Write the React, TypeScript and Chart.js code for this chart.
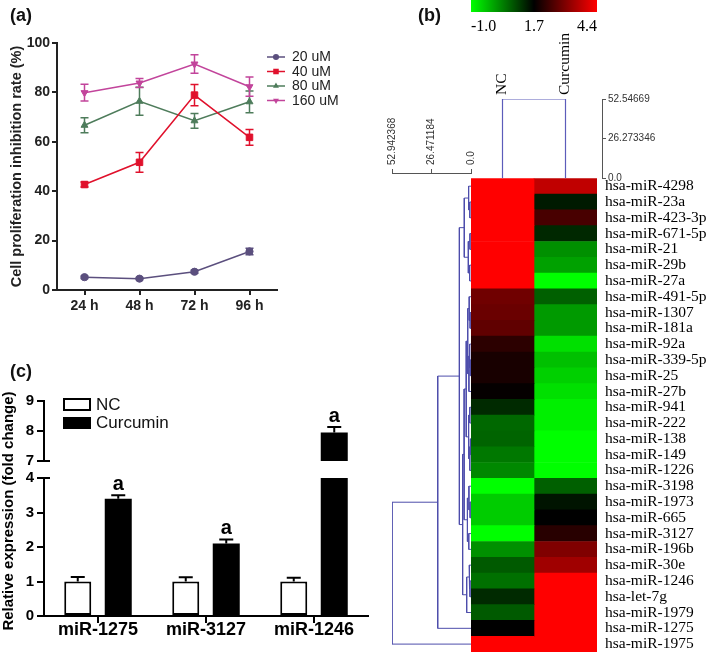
import React, { useEffect, useRef } from 'react';
import { Chart, registerables } from 'chart.js';

Chart.register(...registerables);

const W = 709;
const H = 652;
const SANS = 'Liberation Sans';
const SERIF = 'Liberation Serif';

// ---------------- (a) cell proliferation inhibition ----------------
const timeLabels = ['24 h', '48 h', '72 h', '96 h'];
const doseLabels = ['20 uM', '40 uM', '80 uM', '160 uM'];
const rate20 = [5.2, 4.6, 7.4, 15.6];
const rate40 = [42.7, 51.7, 78.9, 61.8];
const rate80 = [66.7, 76.4, 68.5, 76.2];
const rate160 = [79.9, 83.8, 91.5, 82.3];
const sd20 = [0.5, 0.5, 0.6, 1.3];
const sd40 = [1.0, 4.0, 4.3, 3.2];
const sd80 = [3.0, 5.7, 3.0, 4.4];
const sd160 = [3.4, 1.8, 3.7, 3.9];
const rateTicks = [0, 20, 40, 60, 80, 100];

// ---------------- (b) heatmap ----------------
const mirnaNames = [
  'hsa-miR-4298', 'hsa-miR-23a', 'hsa-miR-423-3p', 'hsa-miR-671-5p', 'hsa-miR-21',
  'hsa-miR-29b', 'hsa-miR-27a', 'hsa-miR-491-5p', 'hsa-miR-1307', 'hsa-miR-181a',
  'hsa-miR-92a', 'hsa-miR-339-5p', 'hsa-miR-25', 'hsa-miR-27b', 'hsa-miR-941',
  'hsa-miR-222', 'hsa-miR-138', 'hsa-miR-149', 'hsa-miR-1226', 'hsa-miR-3198',
  'hsa-miR-1973', 'hsa-miR-665', 'hsa-miR-3127', 'hsa-miR-196b', 'hsa-miR-30e',
  'hsa-miR-1246', 'hsa-let-7g', 'hsa-miR-1979', 'hsa-miR-1275', 'hsa-miR-1975',
];
const sampleLabels = ['NC', 'Curcumin'];
const ncLevels = [
  4.4, 4.4, 4.4, 4.4, 4.4, 4.4, 4.4, 2.89, 2.82, 2.72,
  2.17, 1.95, 1.95, 1.75, 1.25, 0.6, 0.64, 0.43, 0.26, -1.0,
  -0.46, -0.46, -1.0, 0.18, 0.75, 0.51, 1.25, 0.75, 1.7, 4.4,
];
const curLevels = [
  3.73, 1.43, 2.46, 1.28, 0.18, 0.0, -1.0, 0.68, 0.07, 0.07,
  -0.67, -0.33, -0.5, -0.67, -0.84, -0.84, -1.0, -1.0, -1.0, 0.68,
  1.49, 1.7, 2.12, 3.06, 3.39, 4.4, 4.4, 4.4, 4.4, 4.4,
];
const scaleTicks = [-1.0, 1.7, 4.4];
const scaleLabels = ['-1.0', '1.7', '4.4'];
const rowDistTicks = [0, 26.471184, 52.942368];
const rowDistLabels = ['0.0', '26.471184', '52.942368'];
const colDistTicks = [0, 26.273346, 52.54669];
const colDistLabels = ['0.0', '26.273346', '52.54669'];
type Merge = [number, number, number];
const rowMerges: Merge[] = [
  [1, 2, 0.8], [0, 30, 1.6], [3, 4, 0.7], [5, 6, 0.9], [32, 33, 1.8], [31, 34, 4.5],
  [8, 9, 0.6], [7, 36, 1.2], [11, 12, 0.5], [10, 38, 0.9], [39, 13, 1.4], [37, 40, 2.2],
  [14, 15, 0.8], [16, 17, 0.4], [43, 18, 0.8], [42, 44, 1.6], [41, 45, 3.2],
  [20, 21, 0.6], [19, 47, 1.4], [22, 23, 1.5], [48, 49, 2.4], [46, 50, 4.6],
  [25, 26, 0.7], [24, 52, 1.3], [53, 27, 2.9], [51, 54, 5.6], [35, 55, 7.8],
  [56, 28, 22.3], [57, 29, 52.942368],
];
const colMerges: Merge[] = [[0, 1, 52.54669]];

// ---------------- (c) qPCR ----------------
const qpcrLabels = ['miR-1275', 'miR-3127', 'miR-1246'];
const groupLabels = ['NC', 'Curcumin'];
const ncExpr = [1.0, 1.0, 1.0];
const ncErr = [0.13, 0.12, 0.11];
const curExpr = [3.4, 2.1, 7.95];
const curErr = [0.1, 0.12, 0.18];
const sigMarks = ['a', 'a', 'a'];
const exprTicksUpper = [7, 8, 9];
const exprTicksLower = [0, 1, 2, 3, 4];

// ---------------- helpers ----------------
const seriesA = [
  { label: doseLabels[0], values: rate20, sd: sd20, color: '#5b4f7e', marker: 'circle', rot: 0, r: 3.6 },
  { label: doseLabels[1], values: rate40, sd: sd40, color: '#e0112c', marker: 'rect', rot: 0, r: 4.6 },
  { label: doseLabels[2], values: rate80, sd: sd80, color: '#4e7c5b', marker: 'triangle', rot: 0, r: 4 },
  { label: doseLabels[3], values: rate160, sd: sd160, color: '#c2449b', marker: 'triangle', rot: 180, r: 4 },
];

function heatColor(v: number) {
  const lo = scaleTicks[0], mid = scaleTicks[1], hi = scaleTicks[2];
  if (v < mid) {
    const t = Math.min(1, (mid - v) / (mid - lo));
    return `rgb(0,${Math.round(255 * t)},0)`;
  }
  const t = Math.min(1, (v - mid) / (hi - mid));
  return `rgb(${Math.round(255 * t)},0,0)`;
}

function buildDendro(merges: Merge[], n: number) {
  const pos: number[] = [];
  const hgt: number[] = [];
  for (let i = 0; i < n; i++) { pos.push(i); hgt.push(0); }
  return merges.map(([a, b, h]) => {
    const seg = [
      { pos: pos[a], h: hgt[a] }, { pos: pos[a], h }, { pos: pos[b], h }, { pos: pos[b], h: hgt[b] },
    ];
    pos.push((pos[a] + pos[b]) / 2);
    hgt.push(h);
    return seg;
  });
}

function baseOptions(padding: any) {
  return {
    responsive: false,
    animation: false,
    devicePixelRatio: 1,
    events: [],
    layout: { padding },
    plugins: { legend: { display: false }, tooltip: { enabled: false }, title: { display: false } },
  };
}

function fixedSize(prop: string, size: number) {
  return (s: any) => {
    s[prop] = size;
    s.paddingLeft = 0; s.paddingRight = 0; s.paddingTop = 0; s.paddingBottom = 0;
  };
}

function drawMarker(ctx: any, style: string, rot: number, x: number, y: number, r: number, color: string) {
  ctx.save();
  ctx.fillStyle = color;
  ctx.beginPath();
  if (style === 'circle') ctx.arc(x, y, r, 0, Math.PI * 2);
  else if (style === 'rect') { const s = r * Math.SQRT1_2; ctx.rect(x - s, y - s, 2 * s, 2 * s); }
  else {
    const d = rot ? -1 : 1;
    ctx.moveTo(x, y - d * r);
    ctx.lineTo(x + r * 0.87, y + d * r * 0.5);
    ctx.lineTo(x - r * 0.87, y + d * r * 0.5);
    ctx.closePath();
  }
  ctx.fill();
  ctx.restore();
}

// ---------------- panel (a) ----------------
const A = { left: 57, top: 43, right: 277, bottom: 290, xAxisH: 45 };

const errBarsA = {
  id: 'errBarsA',
  afterDatasetsDraw(chart: any) {
    const ctx = chart.ctx;
    const y = chart.scales.y;
    seriesA.forEach((s, i) => {
      const meta = chart.getDatasetMeta(i);
      ctx.save();
      ctx.strokeStyle = s.color;
      ctx.lineWidth = 1.5;
      s.values.forEach((v, j) => {
        const px = meta.data[j].x;
        const t = y.getPixelForValue(v + s.sd[j]);
        const b = y.getPixelForValue(v - s.sd[j]);
        ctx.beginPath();
        ctx.moveTo(px, t); ctx.lineTo(px, b);
        ctx.moveTo(px - 4, t); ctx.lineTo(px + 4, t);
        ctx.moveTo(px - 4, b); ctx.lineTo(px + 4, b);
        ctx.stroke();
      });
      ctx.restore();
    });
  },
};

const legendA = {
  id: 'legendA',
  afterDraw(chart: any) {
    const ctx = chart.ctx;
    seriesA.forEach((s, i) => {
      const y = 57 + i * 14.5;
      ctx.save();
      ctx.strokeStyle = s.color;
      ctx.lineWidth = 1.5;
      ctx.beginPath(); ctx.moveTo(267, y); ctx.lineTo(285, y); ctx.stroke();
      ctx.restore();
      drawMarker(ctx, s.marker, s.rot, 276, y, s.r * 0.85, s.color);
      ctx.save();
      ctx.fillStyle = '#222';
      ctx.font = `14px "${SANS}"`;
      ctx.textBaseline = 'middle';
      ctx.textAlign = 'left';
      ctx.fillText(s.label, 292, y + 0.5);
      ctx.restore();
    });
    ctx.save();
    ctx.fillStyle = '#111';
    ctx.font = `bold 18px "${SANS}"`;
    ctx.textBaseline = 'middle';
    ctx.fillText('(a)', 10, 16);
    ctx.restore();
  },
};

function configA(): any {
  return {
    type: 'line',
    data: {
      labels: timeLabels,
      datasets: seriesA.map((s) => ({
        label: s.label,
        data: s.values,
        borderColor: s.color,
        backgroundColor: s.color,
        borderWidth: 1.5,
        pointStyle: s.marker,
        pointRotation: s.rot,
        pointRadius: s.r,
        pointBorderWidth: 1,
        tension: 0,
        fill: false,
      })),
    },
    options: {
      ...baseOptions({ left: 0, top: A.top, right: W - A.right, bottom: H - A.bottom - A.xAxisH }),
      scales: {
        x: {
          type: 'category',
          offset: true,
          grid: { display: true, drawOnChartArea: false, offset: false, tickLength: 5, color: '#222', lineWidth: 2 },
          border: { display: true, color: '#222', width: 2 },
          ticks: { font: { family: SANS, size: 14, weight: 'bold' }, color: '#222', padding: 3 },
          afterFit: fixedSize('height', A.xAxisH),
        },
        y: {
          type: 'linear',
          min: rateTicks[0],
          max: rateTicks[rateTicks.length - 1],
          afterBuildTicks: (s: any) => { s.ticks = rateTicks.map((v) => ({ value: v })); },
          grid: { display: true, drawOnChartArea: false, tickLength: 5, color: '#222', lineWidth: 2 },
          border: { display: true, color: '#222', width: 2 },
          ticks: { font: { family: SANS, size: 14, weight: 'bold' }, color: '#222', padding: 2 },
          title: {
            display: true,
            text: 'Cell proliferation inhibition rate (%)',
            font: { family: SANS, size: 14.5, weight: 'bold' },
            color: '#222',
            padding: { top: 8, bottom: 0 },
          },
          afterFit: fixedSize('width', A.left),
        },
      },
    },
    plugins: [errBarsA, legendA],
  };
}

// ---------------- panel (b) ----------------
const HM = { left: 471, right: 597, top: 178.3, bottom: 652 };
const DENDRO = '#4d4dab';

const colorBar = {
  id: 'colorBar',
  afterDraw(chart: any) {
    const ctx = chart.ctx;
    const lo = scaleTicks[0], hi = scaleTicks[2];
    const g = ctx.createLinearGradient(HM.left, 0, HM.right, 0);
    scaleTicks.forEach((v) => g.addColorStop((v - lo) / (hi - lo), heatColor(v)));
    ctx.save();
    ctx.fillStyle = g;
    ctx.fillRect(HM.left, 0, HM.right - HM.left, 12);
    ctx.fillStyle = '#000';
    ctx.font = `16px "${SERIF}"`;
    ctx.textBaseline = 'middle';
    scaleTicks.forEach((v, i) => {
      const x = HM.left + ((v - lo) / (hi - lo)) * (HM.right - HM.left);
      ctx.textAlign = i === 0 ? 'left' : i === scaleTicks.length - 1 ? 'right' : 'center';
      ctx.fillText(scaleLabels[i], x, 27);
    });
    ctx.font = `bold 18px "${SANS}"`;
    ctx.textAlign = 'left';
    ctx.fillStyle = '#111';
    ctx.fillText('(b)', 418, 16);
    ctx.restore();
  },
};

function configHeat(): any {
  return {
    type: 'bar',
    data: {
      labels: mirnaNames,
      datasets: [
        { label: sampleLabels[0], data: mirnaNames.map(() => 1), backgroundColor: ncLevels.map(heatColor), borderWidth: 0, barPercentage: 1, categoryPercentage: 1 },
        { label: sampleLabels[1], data: mirnaNames.map(() => 1), backgroundColor: curLevels.map(heatColor), borderWidth: 0, barPercentage: 1, categoryPercentage: 1 },
      ],
    },
    options: {
      ...baseOptions({ left: HM.left, top: HM.top, right: 0, bottom: H - HM.bottom }),
      indexAxis: 'y',
      scales: {
        x: { type: 'linear', stacked: true, min: 0, max: 2, display: false },
        y: {
          type: 'category',
          stacked: true,
          position: 'right',
          offset: true,
          grid: { display: false, drawTicks: false },
          border: { display: false },
          ticks: { autoSkip: false, font: { family: SERIF, size: 15.5 }, color: '#000', padding: 8 },
          afterFit: fixedSize('width', W - HM.right),
        },
      },
    },
    plugins: [colorBar],
  };
}

function configColDendro(): any {
  const colW = (HM.right - HM.left) / sampleLabels.length;
  const area = { left: HM.left, right: 602, top: 99, bottom: HM.top };
  const axisW = 60;
  const segs = buildDendro(colMerges, sampleLabels.length);
  return {
    type: 'scatter',
    data: {
      datasets: segs.map((seg) => ({
        data: seg.map((p) => ({ x: p.pos, y: p.h })),
        showLine: true, borderColor: '#5c5cba', borderWidth: 1.2, pointRadius: 0, fill: false,
      })),
    },
    options: {
      ...baseOptions({ left: area.left, top: 0, right: W - area.right - axisW, bottom: H - area.bottom }),
      scales: {
        x: {
          type: 'linear',
          position: 'top',
          min: -0.5,
          max: -0.5 + (area.right - area.left) / colW,
          afterBuildTicks: (s: any) => { s.ticks = sampleLabels.map((_, i) => ({ value: i })); },
          ticks: {
            autoSkip: false, minRotation: 90, maxRotation: 90, padding: 4, labelOffset: 18,
            font: { family: SERIF, size: 15.5 }, color: '#000',
            callback: (v: any) => sampleLabels[v],
          },
          grid: { display: false, drawTicks: false },
          border: { display: false },
          afterFit: fixedSize('height', area.top),
        },
        y: {
          type: 'linear',
          position: 'right',
          min: colDistTicks[0],
          max: colDistTicks[colDistTicks.length - 1],
          afterBuildTicks: (s: any) => { s.ticks = colDistTicks.map((v) => ({ value: v })); },
          ticks: {
            autoSkip: false, padding: 2, font: { family: SANS, size: 10 }, color: '#333',
            callback: (_v: any, i: number) => colDistLabels[i],
          },
          grid: { display: true, drawOnChartArea: false, tickLength: 4, color: '#555', lineWidth: 1 },
          border: { display: true, color: '#555', width: 1 },
          afterFit: fixedSize('width', axisW),
        },
      },
    },
  };
}

function configRowDendro(): any {
  const rowH = (HM.bottom - HM.top) / mirnaNames.length;
  const area = { left: 392, right: HM.left, top: 173, bottom: HM.bottom };
  const padTop = 100;
  const segs = buildDendro(rowMerges, mirnaNames.length);
  return {
    type: 'scatter',
    data: {
      datasets: segs.map((seg) => ({
        data: seg.map((p) => ({ x: p.h, y: p.pos })),
        showLine: true, borderColor: DENDRO, borderWidth: 1, pointRadius: 0, fill: false,
      })),
    },
    options: {
      ...baseOptions({ left: area.left, top: padTop, right: W - area.right, bottom: H - area.bottom }),
      scales: {
        x: {
          type: 'linear',
          position: 'top',
          reverse: true,
          min: rowDistTicks[0],
          max: rowDistTicks[rowDistTicks.length - 1],
          afterBuildTicks: (s: any) => { s.ticks = rowDistTicks.map((v) => ({ value: v })); },
          ticks: {
            autoSkip: false, minRotation: 90, maxRotation: 90, padding: 4, labelOffset: 12,
            font: { family: SANS, size: 10 }, color: '#333',
            callback: (_v: any, i: number) => rowDistLabels[i],
          },
          grid: { display: true, drawOnChartArea: false, tickLength: 4, color: '#555', lineWidth: 1 },
          border: { display: true, color: '#555', width: 1 },
          afterFit: fixedSize('height', area.top - padTop),
        },
        y: {
          type: 'linear',
          reverse: true,
          min: -0.5 - (HM.top - area.top) / rowH,
          max: mirnaNames.length - 0.5,
          display: false,
        },
      },
    },
  };
}

// ---------------- panel (c) ----------------
const C = { left: 44, right: 368, upTop: 401, upBottom: 461, loTop: 478, loBottom: 616 };

function barDatasets() {
  return [
    { label: groupLabels[0], data: ncExpr, backgroundColor: '#ffffff', borderColor: '#000', borderWidth: 2, borderSkipped: false, barPercentage: 0.667, categoryPercentage: 0.75, clip: 0 },
    { label: groupLabels[1], data: curExpr, backgroundColor: '#000', borderColor: '#000', borderWidth: 0, barPercentage: 0.667, categoryPercentage: 0.75, clip: 0 },
  ];
}

function yAxisC(ticks: number[]) {
  return {
    type: 'linear',
    min: ticks[0],
    max: ticks[ticks.length - 1],
    afterBuildTicks: (s: any) => { s.ticks = ticks.map((v) => ({ value: v })); },
    grid: { display: true, drawOnChartArea: false, tickLength: 7, color: '#000', lineWidth: 2 },
    border: { display: true, color: '#000', width: 2 },
    ticks: { font: { family: SANS, size: 15, weight: 'bold' }, color: '#000', padding: 3 },
    afterFit: fixedSize('width', C.left),
  };
}

function errPluginC(breakValue: number) {
  return {
    id: 'errC',
    afterDatasetsDraw(chart: any) {
      const ctx = chart.ctx;
      const y = chart.scales.y;
      const area = chart.chartArea;
      const sets = [{ v: ncExpr, e: ncErr }, { v: curExpr, e: curErr, marks: sigMarks }];
      sets.forEach((s: any, di) => {
        const meta = chart.getDatasetMeta(di);
        s.v.forEach((v: number, j: number) => {
          const el = meta.data[j];
          const top = y.getPixelForValue(v + s.e[j]);
          const bar = y.getPixelForValue(v);
          ctx.save();
          ctx.beginPath();
          ctx.rect(area.left, area.top, area.right - area.left, area.bottom - area.top);
          ctx.clip();
          ctx.strokeStyle = '#000';
          ctx.lineWidth = 2;
          ctx.beginPath();
          ctx.moveTo(el.x, bar); ctx.lineTo(el.x, top);
          ctx.moveTo(el.x - 7, top); ctx.lineTo(el.x + 7, top);
          ctx.stroke();
          ctx.restore();
          if (s.marks && top >= area.top && top <= area.bottom) {
            ctx.save();
            ctx.fillStyle = '#000';
            ctx.font = `bold 20px "${SANS}"`;
            ctx.textAlign = 'center';
            ctx.textBaseline = 'alphabetic';
            ctx.fillText(s.marks[j], el.x, top - 5);
            ctx.restore();
          }
        });
      });
      const by = y.getPixelForValue(breakValue);
      ctx.save();
      ctx.strokeStyle = '#000';
      ctx.lineWidth = 2;
      ctx.beginPath(); ctx.moveTo(area.left, by); ctx.lineTo(area.left + 6, by); ctx.stroke();
      ctx.restore();
    },
  };
}

const legendC = {
  id: 'legendC',
  afterDraw(chart: any) {
    const ctx = chart.ctx;
    ctx.save();
    ctx.lineWidth = 2;
    ctx.strokeStyle = '#000';
    ctx.fillStyle = '#fff';
    ctx.fillRect(64, 399, 26, 11);
    ctx.strokeRect(64, 399, 26, 11);
    ctx.fillStyle = '#000';
    ctx.fillRect(63, 417, 28, 12);
    ctx.font = `17px "${SANS}"`;
    ctx.textBaseline = 'middle';
    ctx.textAlign = 'left';
    ctx.fillStyle = '#111';
    ctx.fillText(groupLabels[0], 96, 405);
    ctx.fillText(groupLabels[1], 96, 423.5);
    ctx.restore();
  },
};

const titleC = {
  id: 'titleC',
  afterDraw(chart: any) {
    const ctx = chart.ctx;
    ctx.save();
    ctx.fillStyle = '#111';
    ctx.font = `bold 18px "${SANS}"`;
    ctx.textBaseline = 'middle';
    ctx.textAlign = 'left';
    ctx.fillText('(c)', 10, 372);
    ctx.translate(8.5, 511);
    ctx.rotate(-Math.PI / 2);
    ctx.textAlign = 'center';
    ctx.font = `bold 15px "${SANS}"`;
    ctx.fillStyle = '#000';
    ctx.fillText('Relative expression (fold change)', 0, 0);
    ctx.restore();
  },
};

function configCUpper(): any {
  return {
    type: 'bar',
    data: { labels: qpcrLabels, datasets: barDatasets() },
    options: {
      ...baseOptions({ left: 0, top: C.upTop, right: W - C.right, bottom: H - C.upBottom }),
      scales: {
        x: { type: 'category', offset: true, display: false },
        y: yAxisC(exprTicksUpper),
      },
    },
    plugins: [errPluginC(exprTicksUpper[0]), legendC],
  };
}

function configCLower(): any {
  return {
    type: 'bar',
    data: { labels: qpcrLabels, datasets: barDatasets() },
    options: {
      ...baseOptions({ left: 0, top: C.loTop, right: W - C.right, bottom: 0 }),
      scales: {
        x: {
          type: 'category',
          offset: true,
          grid: { display: true, drawOnChartArea: false, offset: false, tickLength: 7, color: '#000', lineWidth: 2 },
          border: { display: true, color: '#000', width: 2 },
          ticks: { font: { family: SANS, size: 18, weight: 'bold', lineHeight: 1 }, color: '#000', padding: -2 },
          afterFit: fixedSize('height', H - C.loBottom),
        },
        y: yAxisC(exprTicksLower),
      },
    },
    plugins: [errPluginC(exprTicksLower[exprTicksLower.length - 1]), titleC],
  };
}

export default function App() {
  const r0 = useRef<HTMLCanvasElement>(null);
  const r1 = useRef<HTMLCanvasElement>(null);
  const r2 = useRef<HTMLCanvasElement>(null);
  const r3 = useRef<HTMLCanvasElement>(null);
  const r4 = useRef<HTMLCanvasElement>(null);
  const r5 = useRef<HTMLCanvasElement>(null);
  const refs = [r0, r1, r2, r3, r4, r5];

  useEffect(() => {
    Chart.defaults.font.family = SANS;
    Chart.defaults.color = '#000';
    const configs = [configA(), configHeat(), configColDendro(), configRowDendro(), configCUpper(), configCLower()];
    const charts = configs.map((c, i) => new Chart(refs[i].current as HTMLCanvasElement, c));
    return () => charts.forEach((ch) => ch.destroy());
  }, []);

  return (
    <div style={{ position: 'absolute', left: 0, top: 0, width: W, height: H, background: '#fff', overflow: 'hidden' }}>
      {refs.map((r, i) => (
        <canvas key={i} ref={r} width={W} height={H} style={{ position: 'absolute', left: 0, top: 0, width: W, height: H }} />
      ))}
    </div>
  );
}
